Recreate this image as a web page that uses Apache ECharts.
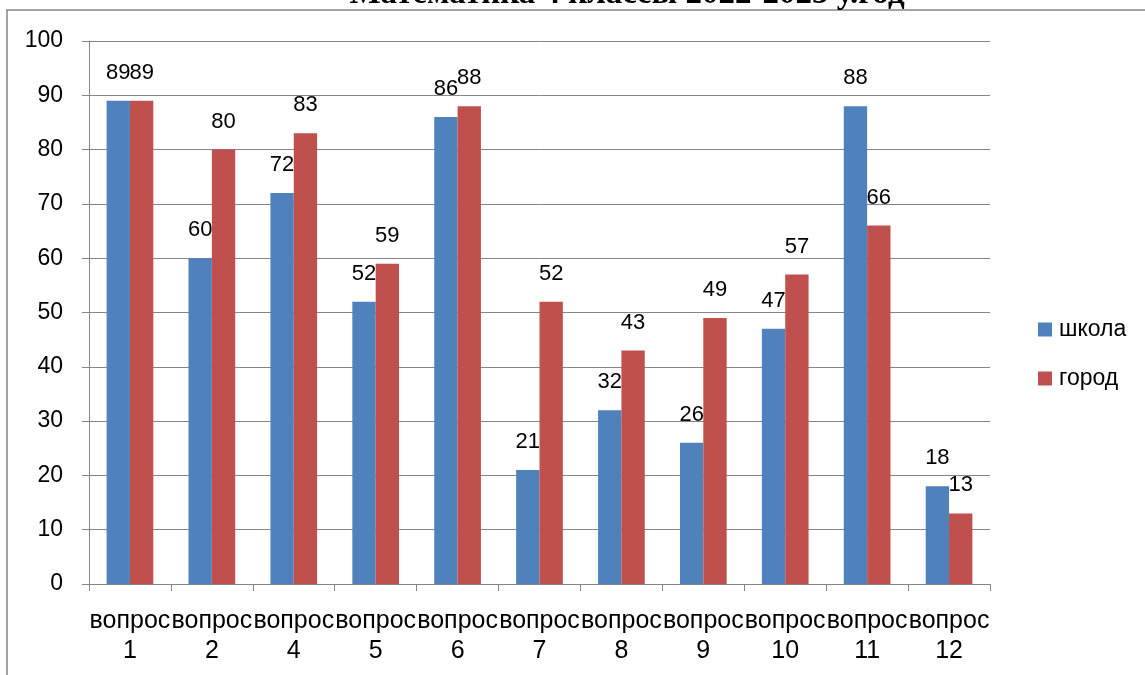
<!DOCTYPE html>
<html>
<head>
<meta charset="utf-8">
<script src="https://cdn.jsdelivr.net/npm/echarts@6/dist/echarts.min.js"></script>
<style>html,body{margin:0;padding:0;background:#fff;}#c{width:1145px;height:675px;}</style>
</head>
<body>
<div id="c"></div>
<script>
const titleText = 'Математика 4 классы 2022-2023 у.год';
const questionNumbers = ['1','2','4','5','6','7','8','9','10','11','12'];
const categories = questionNumbers.map(n => 'вопрос\n' + n);
const schoolName = 'школа';
const cityName = 'город';
const schoolValues = [89,60,72,52,86,21,32,26,47,88,18];
const cityValues = [89,80,83,59,88,52,43,49,57,66,13];
const yTicks = { min: 0, max: 100, interval: 10 };

const FONT = 'Liberation Sans';
const chart = echarts.init(document.getElementById('c'));
const labelCfg = { show: true, position: 'top', distance: 17, color: '#000', fontSize: 22, fontFamily: FONT };
chart.setOption({
  animation: false,
  graphic: [
    { type: 'rect', shape: { x: 7, y: 10, width: 1300, height: 800 }, style: { fill: 'none', stroke: '#868686', lineWidth: 1.5 }, silent: true },
    { type: 'text', x: 627, y: -6, style: { text: titleText, font: 'bold 33px "Liberation Serif"', fill: '#000', textAlign: 'center', textVerticalAlign: 'middle' } }
  ],
  legend: {
    orient: 'vertical', left: 1033, top: 313, itemWidth: 14, itemHeight: 14, itemGap: 26,
    icon: 'rect',
    textStyle: { fontSize: 23, fontFamily: FONT, color: '#000', padding: [0,0,0,2] },
    data: [schoolName, cityName]
  },
  grid: { left: 89, right: 155, top: 41, bottom: 91, containLabel: false },
  xAxis: {
    type: 'category', data: categories,
    axisLine: { lineStyle: { color: '#868686', width: 1 } },
    axisTick: { show: true, length: 7, lineStyle: { color: '#868686' } },
    axisLabel: { color: '#000', fontSize: 25, fontFamily: FONT, lineHeight: 30, margin: 22, interval: 0 }
  },
  yAxis: {
    type: 'value', min: yTicks.min, max: yTicks.max, interval: yTicks.interval,
    axisLine: { show: true, lineStyle: { color: '#868686', width: 1 } },
    axisTick: { show: true, length: 7, lineStyle: { color: '#868686' } },
    splitLine: { lineStyle: { color: '#868686', width: 1 } },
    axisLabel: { color: '#000', fontSize: 23, fontFamily: FONT, margin: 26 }
  },
  series: [
    { name: schoolName, type: 'bar', data: schoolValues, barGap: '0%', barCategoryGap: '43%', itemStyle: { color: '#4F81BD' }, label: labelCfg },
    { name: cityName, type: 'bar', data: cityValues, itemStyle: { color: '#C0504D' }, label: labelCfg }
  ]
});
</script>
</body>
</html>
